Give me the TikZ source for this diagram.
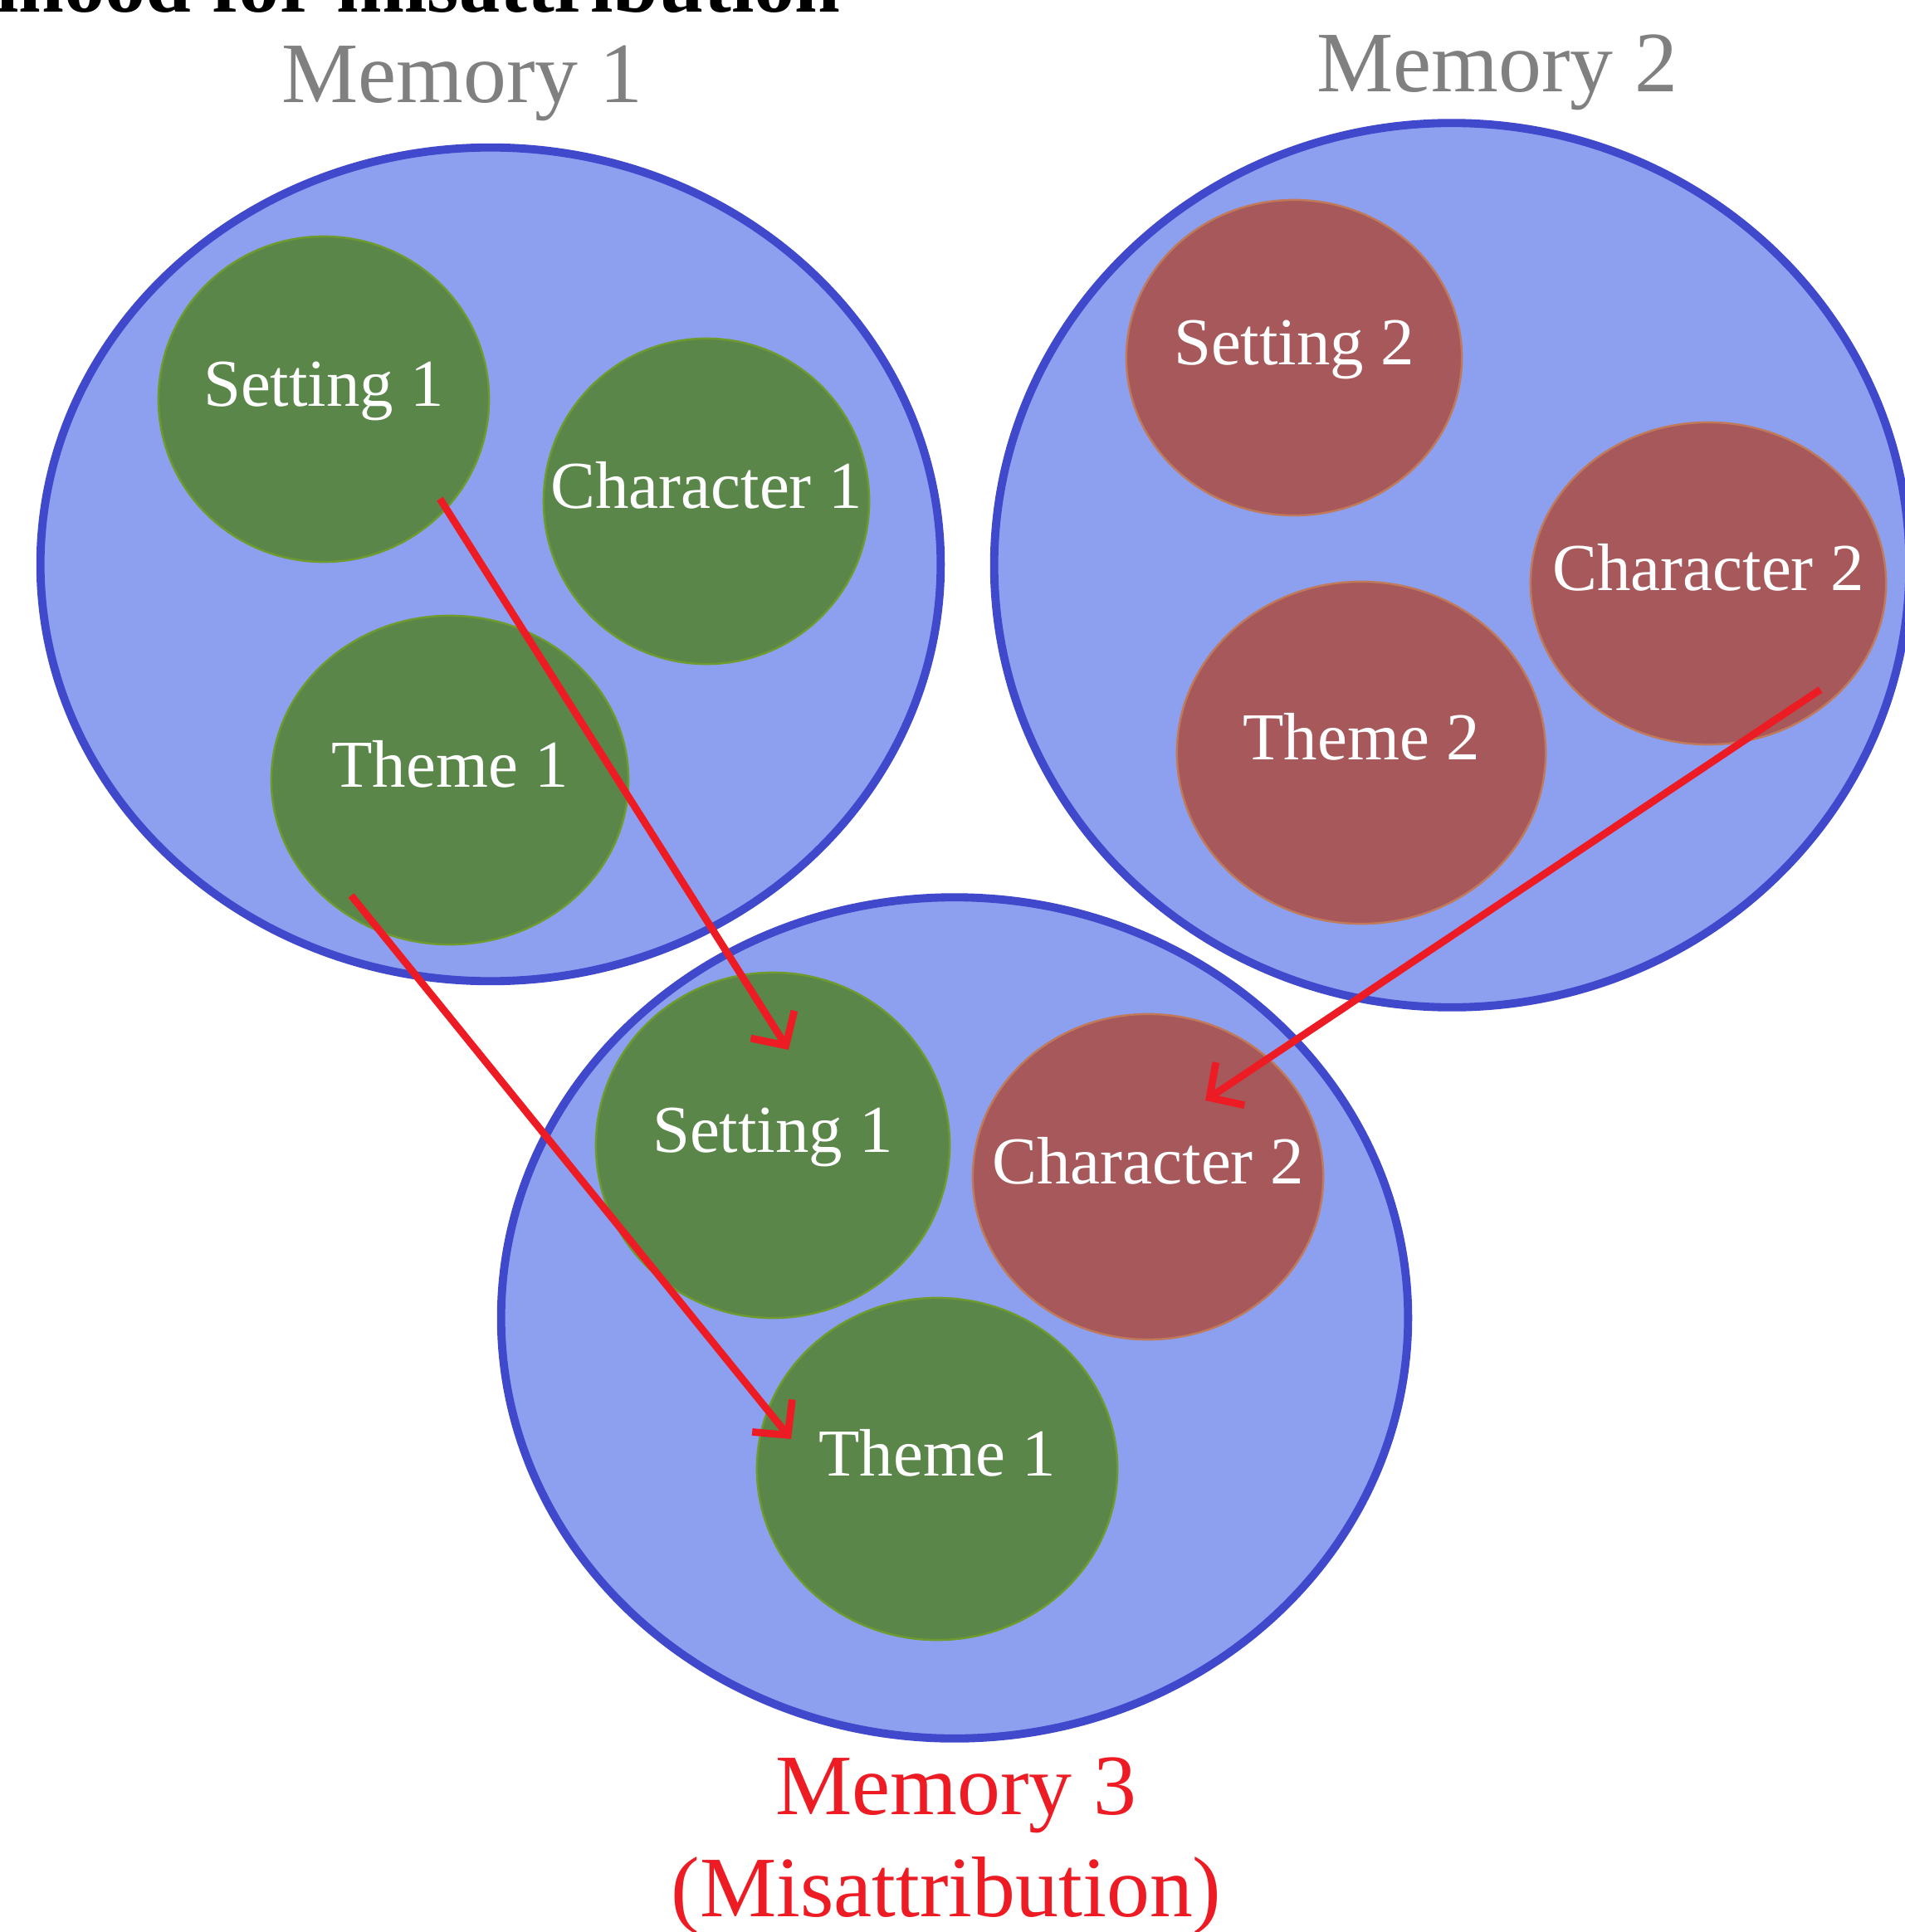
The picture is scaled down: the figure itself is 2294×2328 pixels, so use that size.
\documentclass[tikz,border=0pt]{standalone}
\usepackage{fontspec}
\setmainfont{Liberation Serif}
\usetikzlibrary{shapes.geometric,arrows.meta}
\definecolor{memfill}{RGB}{141,160,239}
\definecolor{memline}{RGB}{64,72,204}
\definecolor{greenfill}{RGB}{90,134,74}
\definecolor{greenline}{RGB}{110,154,46}
\definecolor{redfill}{RGB}{166,88,90}
\definecolor{redline}{RGB}{192,122,90}
\definecolor{arrowred}{RGB}{237,28,36}
\definecolor{labelgray}{RGB}{128,128,128}

\begin{document}
\begin{tikzpicture}[x=0.01cm,y=-0.01cm,
    memory/.style={ellipse,draw=memline,fill=memfill,line width=2.8pt,inner sep=0pt},
    greenpart/.style={ellipse,draw=greenline,fill=greenfill,line width=0.7pt,inner sep=0pt},
    redpart/.style={ellipse,draw=redline,fill=redfill,line width=0.7pt,inner sep=0pt},
    tag/.style={text=white,font=\fontsize{23}{27}\selectfont,text height=0.7em,text depth=0.2em},
    memtitle/.style={anchor=base,font=\fontsize{29.5}{34}\selectfont},
    move/.style={draw=arrowred,line width=2.5pt,-{Straight Barb[length=0.3cm,width=0.62cm]}}]
    \useasboundingbox (0,0) rectangle (2294,2328);

    \node [anchor=base east,font=\bfseries\fontsize{28}{34}\selectfont] (headline) at (1025,15) {Likelihood for misattribution};

    %---------------------------------------------------------------%
    \node [memory,minimum width=10.84cm,minimum height=10.04cm] (mem1) at (591,680) {};
    \node [memory,minimum width=11.02cm,minimum height=10.65cm] (mem2) at (1749,681) {};
    \node [memory,minimum width=10.92cm,minimum height=10.13cm] (mem3) at (1150,1588) {};
    \node [memtitle,text=labelgray] (mem1 name) at (557,124) {Memory 1};
    \node [memtitle,text=labelgray] (mem2 name) at (1804,111) {Memory 2};
    \node [memtitle,text=arrowred] (mem3 name) at (1152,2186) {Memory 3};
    \node [memtitle,text=arrowred] (mem3 note) at (1140,2309) {(Misattribution)};

    %---------------------------------------------------------------%
    \node [greenpart,minimum width=3.98cm,minimum height=3.92cm] (set1) at (390,481) {};
    \node [greenpart,minimum width=3.92cm,minimum height=3.92cm] (char1) at (851,604) {};
    \node [greenpart,minimum width=4.30cm,minimum height=3.96cm] (theme1) at (542,940) {};
    \node [tag] (set1 text) at (set1) {Setting 1};
    \node [tag] (char1 text) at (char1) {Character 1};
    \node [tag] (theme1 text) at (theme1) {Theme 1};

    %---------------------------------------------------------------%
    \node [redpart,minimum width=4.04cm,minimum height=3.80cm] (set2) at (1559,431) {};
    \node [redpart,minimum width=4.28cm,minimum height=3.88cm] (char2) at (2058,703) {};
    \node [redpart,minimum width=4.44cm,minimum height=4.12cm] (theme2) at (1640,907) {};
    \node [tag] (set2 text) at (set2) {Setting 2};
    \node [tag] (char2 text) at (char2) {Character 2};
    \node [tag] (theme2 text) at (theme2) {Theme 2};

    %---------------------------------------------------------------%
    \node [greenpart,minimum width=4.26cm,minimum height=4.16cm] (setcopy) at (931,1380) {};
    \node [redpart,minimum width=4.22cm,minimum height=3.92cm] (charcopy) at (1383,1418) {};
    \node [greenpart,minimum width=4.34cm,minimum height=4.12cm] (themecopy) at (1129,1770) {};
    \node [tag] (setcopy text) at (setcopy) {Setting 1};
    \node [tag] (charcopy text) at (charcopy) {Character 2};
    \node [tag] (themecopy text) at (themecopy) {Theme 1};

    %---------------------------------------------------------------%
    \coordinate (set1 out) at (530,601);
    \coordinate (setcopy in) at (950,1265);
    \coordinate (theme1 out) at (423,1079);
    \coordinate (themecopy in) at (953,1734);
    \coordinate (char2 out) at (2193,831);
    \coordinate (charcopy in) at (1452,1326);
    \draw [move] (set1 out) -- (setcopy in);
    \draw [move] (theme1 out) -- (themecopy in);
    \draw [move] (char2 out) -- (charcopy in);
\end{tikzpicture}
\end{document}
